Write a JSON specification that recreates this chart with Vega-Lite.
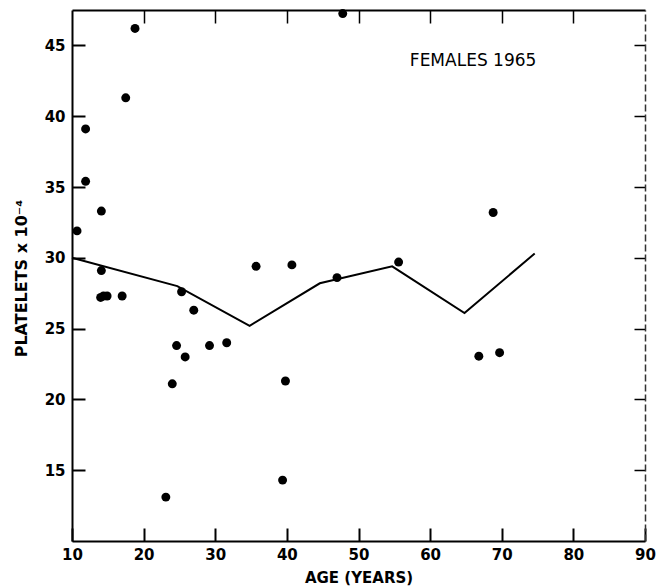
{
  "$schema": "https://vega.github.io/schema/vega-lite/v6.json",
  "width": 573,
  "height": 531,
  "autosize": {"type": "none"},
  "padding": {"left": 72, "top": 10, "right": 14, "bottom": 46},
  "background": "white",
  "config": {
    "view": {"stroke": null},
    "axis": {"grid": false, "domainColor": "black", "tickColor": "black", "labelColor": "black", "titleColor": "black", "labelFont": "DejaVu Sans", "titleFont": "DejaVu Sans"}
  },
  "datasets": {
    "points": [
      {"age": 18.8, "platelets": 46.2}, {"age": 17.5, "platelets": 41.3}, {"age": 11.9, "platelets": 39.1},
      {"age": 11.9, "platelets": 35.4}, {"age": 14.1, "platelets": 33.3}, {"age": 10.7, "platelets": 31.9},
      {"age": 14.1, "platelets": 29.1}, {"age": 35.7, "platelets": 29.4}, {"age": 40.7, "platelets": 29.5},
      {"age": 25.3, "platelets": 27.6}, {"age": 14.0, "platelets": 27.2}, {"age": 14.4, "platelets": 27.3},
      {"age": 14.9, "platelets": 27.3}, {"age": 17.0, "platelets": 27.3}, {"age": 27.0, "platelets": 26.3},
      {"age": 24.6, "platelets": 23.8}, {"age": 25.8, "platelets": 23.0}, {"age": 29.2, "platelets": 23.8},
      {"age": 31.6, "platelets": 24.0}, {"age": 24.0, "platelets": 21.1}, {"age": 39.8, "platelets": 21.3},
      {"age": 39.4, "platelets": 14.3}, {"age": 23.1, "platelets": 13.1}, {"age": 47.8, "platelets": 47.25},
      {"age": 47.0, "platelets": 28.6}, {"age": 55.6, "platelets": 29.7}, {"age": 68.8, "platelets": 33.2},
      {"age": 66.8, "platelets": 23.05}, {"age": 69.7, "platelets": 23.3}
    ],
    "curve": [
      {"age": 10.0, "platelets": 30.0}, {"age": 24.7, "platelets": 28.0}, {"age": 34.8, "platelets": 25.2},
      {"age": 44.6, "platelets": 28.2}, {"age": 54.7, "platelets": 29.4}, {"age": 64.8, "platelets": 26.1},
      {"age": 74.6, "platelets": 30.3}
    ],
    "note": [{"age": 66.0, "platelets": 43.9, "label": "FEMALES  1965"}]
  },
  "layer": [
    {
      "data": {"name": "points"},
      "mark": {"type": "circle", "size": 80, "color": "black", "opacity": 1},
      "encoding": {
        "x": {"field": "age", "type": "quantitative", "scale": {"domain": [10, 90], "nice": false},
          "axis": {"orient": "bottom", "values": [10, 20, 30, 40, 50, 60, 70, 80, 90], "tickSize": -13, "tickWidth": 2, "domainWidth": 2, "labelPadding": 19, "labelFontSize": 15, "labelFontWeight": "bold", "labelFlush": false, "labelOverlap": false,
            "title": "AGE (YEARS)", "titleFontSize": 15, "titleFontWeight": "bold", "titleY": 36, "titleBaseline": "middle"}},
        "y": {"field": "platelets", "type": "quantitative", "scale": {"domain": [10, 47.5], "nice": false, "zero": false},
          "axis": {"orient": "left", "values": [15, 20, 25, 30, 35, 40, 45], "tickSize": -13, "tickWidth": 2, "domainWidth": 2, "labelPadding": 20, "labelFontSize": 15, "labelFontWeight": "bold", "labelFlush": false, "labelOverlap": false,
            "title": "PLATELETS x 10⁻⁴", "titleFontSize": 16, "titleFontWeight": "bold", "titleAngle": -90, "titleX": -51, "titleY": 268, "titleAlign": "center", "titleBaseline": "middle"}}
      }
    },
    {
      "data": {"name": "curve"},
      "mark": {"type": "line", "color": "black", "strokeWidth": 2},
      "encoding": {
        "x": {"field": "age", "type": "quantitative", "scale": {"domain": [10, 90], "nice": false},
          "axis": {"orient": "top", "values": [20, 30, 40, 50, 60, 70, 80], "tickSize": -13, "tickWidth": 1.5, "domainWidth": 2, "labels": false, "title": null}},
        "y": {"field": "platelets", "type": "quantitative", "scale": {"domain": [10, 47.5], "nice": false, "zero": false},
          "axis": {"orient": "right", "values": [15, 20, 25, 30, 35, 40, 45], "tickSize": -11, "tickWidth": 1.5, "domainWidth": 1.5, "domainColor": "#333", "domainDash": [7, 3], "labels": false, "title": null}}
      }
    },
    {
      "data": {"name": "note"},
      "mark": {"type": "text", "font": "DejaVu Sans", "fontSize": 17, "color": "black", "align": "center", "baseline": "middle"},
      "encoding": {
        "x": {"field": "age", "type": "quantitative", "axis": null},
        "y": {"field": "platelets", "type": "quantitative", "axis": null},
        "text": {"field": "label"}
      }
    }
  ],
  "resolve": {"axis": {"x": "independent", "y": "independent"}}
}
